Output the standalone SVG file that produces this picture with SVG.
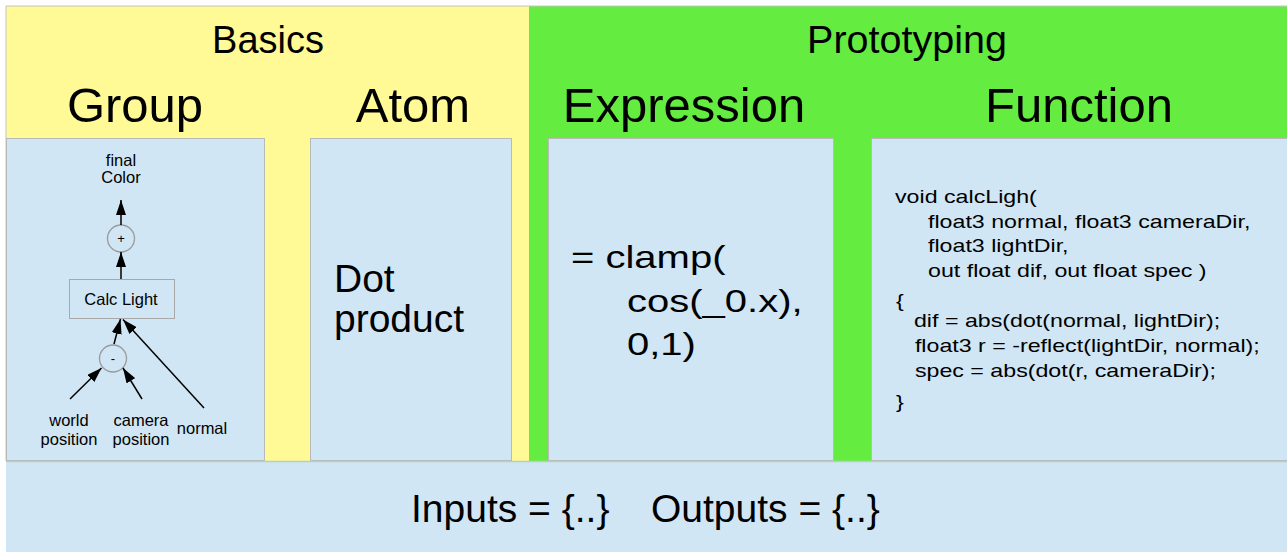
<svg xmlns="http://www.w3.org/2000/svg" width="1287" height="552" viewBox="0 0 1287 552">
  <style>
    text { font-family: "Liberation Sans", Arial, Helvetica, sans-serif; fill: #000; }
    .band-basics { fill: #fff996; }
    .band-proto { fill: #64ed40; }
    .panel { fill: #d0e6f4; stroke: #b9b9b9; stroke-width: 1; }
    .band-title { font-size: 38px; text-anchor: middle; }
    .col-title { font-size: 49px; text-anchor: middle; }
    .small { font-size: 16.5px; text-anchor: middle; }
    .op { fill: #d0e6f4; stroke: #9a9a9a; stroke-width: 1.3; }
    .node-box { fill: #d0e6f4; stroke: #a8a8a8; stroke-width: 1; }
    .edge { stroke: #000; stroke-width: 1.5; fill: none; marker-end: url(#arrow); }
    .big { font-size: 39px; }
    .expr { font-size: 32px; }
    .code { font-size: 17.5px; }
  </style>
  <defs>
    <marker id="arrow" markerUnits="userSpaceOnUse" markerWidth="15" markerHeight="10" refX="15" refY="5" orient="auto">
      <path d="M0,0 L15,5 L0,10 z" fill="#000"/>
    </marker>
  </defs>

  <!-- page background -->
  <rect x="0" y="0" width="1287" height="552" fill="#ffffff"/>

  <!-- category bands -->
  <g id="basics">
    <rect class="band-basics" x="6" y="6" width="523" height="455"/>
    <text class="band-title" x="268" y="53">Basics</text>
  </g>
  <g id="prototyping">
    <rect class="band-proto" x="529" y="6" width="758" height="455"/>
    <text class="band-title" x="907" y="53" style="font-size:39.5px">Prototyping</text>
  </g>
  <line x1="6" y1="6" x2="1287" y2="6" stroke="#c4c4c4" stroke-width="1"/>
  <line x1="6" y1="6" x2="6" y2="461" stroke="#c4c4c4" stroke-width="1"/>

  <!-- column: Group -->
  <g id="group">
    <text class="col-title" x="135" y="122">Group</text>
    <rect class="panel" x="6.5" y="138.5" width="258" height="322"/>
  </g>

  <!-- small graph inside the Group panel -->
  <g id="final-color">
    <text class="small" x="121" y="166">final</text>
    <text class="small" x="121" y="183">Color</text>
  </g>
  <g id="plus">
    <circle class="op" cx="121" cy="238.5" r="13.5"/>
    <text x="121" y="243" font-size="13" text-anchor="middle">+</text>
  </g>
  <g id="calc-light">
    <rect class="node-box" x="69.5" y="279.5" width="105" height="39"/>
    <text class="small" x="121" y="305">Calc Light</text>
  </g>
  <g id="minus">
    <circle class="op" cx="113" cy="358.5" r="13.5"/>
    <text x="113" y="363" font-size="13" text-anchor="middle">-</text>
  </g>
  <g id="world-position">
    <text class="small" x="69" y="426">world</text>
    <text class="small" x="69" y="445">position</text>
  </g>
  <g id="camera-position">
    <text class="small" x="141" y="426">camera</text>
    <text class="small" x="141" y="445">position</text>
  </g>
  <g id="normal">
    <text class="small" x="202" y="434">normal</text>
  </g>

  <g id="connectors">
    <line class="edge" x1="121" y1="225" x2="121" y2="200"/>
    <line class="edge" x1="121" y1="279" x2="121" y2="252"/>
    <line class="edge" x1="114" y1="344" x2="120.5" y2="319"/>
    <line class="edge" x1="204" y1="408" x2="123" y2="319.5"/>
    <line class="edge" x1="70" y1="399" x2="101.5" y2="368"/>
    <line class="edge" x1="142" y1="399" x2="123" y2="368"/>
  </g>

  <!-- column: Atom -->
  <g id="atom">
    <text class="col-title" x="413" y="122">Atom</text>
    <rect class="panel" x="310.5" y="138.5" width="201" height="322"/>
    <text class="big" x="334" y="292">Dot</text>
    <text class="big" x="334" y="332">product</text>
  </g>

  <!-- column: Expression -->
  <g id="expression">
    <text class="col-title" x="684" y="122">Expression</text>
    <rect class="panel" x="548.5" y="138.5" width="285" height="322"/>
    <g transform="translate(571,0) scale(1.25,1)">
      <text class="expr" x="0" y="268">= clamp(</text>
      <text class="expr" x="44.8" y="312">cos(_0.x),</text>
      <text class="expr" x="44.8" y="355">0,1)</text>
    </g>
  </g>

  <!-- column: Function -->
  <g id="function">
    <text class="col-title" x="1079" y="122">Function</text>
    <rect class="panel" x="871.5" y="138.5" width="420" height="322"/>
    <g transform="translate(895,0) scale(1.326,1)">
      <text class="code" x="0" y="203">void calcLigh(</text>
      <text class="code" x="24.9" y="228">float3 normal, float3 cameraDir,</text>
      <text class="code" x="24.9" y="252">float3 lightDir,</text>
      <text class="code" x="24.9" y="277">out float dif, out float spec )</text>
      <text class="code" x="0.8" y="307">{</text>
      <text class="code" x="14.3" y="327">dif = abs(dot(normal, lightDir);</text>
      <text class="code" x="15" y="352">float3 r = -reflect(lightDir, normal);</text>
      <text class="code" x="15" y="377">spec = abs(dot(r, cameraDir);</text>
      <text class="code" x="0.8" y="408">}</text>
    </g>
  </g>

  <!-- shared interface strip -->
  <g id="interface">
    <rect x="6" y="461" width="1281" height="91" fill="#d0e6f4"/>
    <line x1="6" y1="461.5" x2="1287" y2="461.5" stroke="#b8cdc6" stroke-width="1.5"/>
    <text class="big" x="411" y="522">Inputs = {..}</text>
    <text class="big" x="651" y="522">Outputs = {..}</text>
  </g>
</svg>
